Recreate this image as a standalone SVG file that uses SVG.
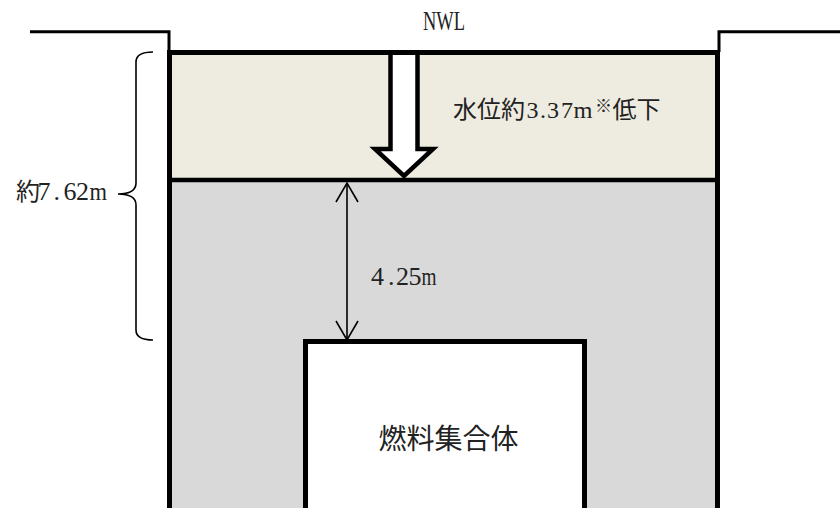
<svg xmlns="http://www.w3.org/2000/svg" width="840" height="508" viewBox="0 0 840 508">
<style>
.thin{fill:none;stroke:#000;stroke-width:3;stroke-linejoin:miter}
.wall{fill:none;stroke:#000;stroke-width:5}
.dim{fill:none;stroke:#000;stroke-width:1.6}
.lbl{font-family:"Liberation Serif","Noto Sans CJK JP",serif;fill:#222}
.cjk{font-family:"Noto Sans CJK JP",sans-serif;fill:#222}
</style>
<defs>
<marker id="v" viewBox="-21 -13 23 26" markerWidth="23" markerHeight="26" refX="0" refY="0" orient="auto-start-reverse" markerUnits="userSpaceOnUse">
<path d="M-19,-11 L0,0 L-19,11" fill="none" stroke="#000" stroke-width="1.6"/>
</marker>
</defs>
<rect width="840" height="508" fill="#fff"/>
<g id="ground">
<path class="thin" d="M30,31.7 H169 V52"/>
<path class="thin" d="M719,52 V31.7 H840"/>
</g>
<g id="pool-water">
<rect x="169" y="52" width="549" height="128" fill="#EEECE1"/>
<rect x="169" y="180" width="549" height="330" fill="#D9D9D9"/>
</g>
<g id="connectors">
<path id="drop-arrow" d="M390.5,50 V149 H375 L404,176 L433,149 H417.5 V50" fill="#fff" stroke="#000" stroke-width="4.5" stroke-linejoin="miter"/>
<path id="dim-425" class="dim" d="M347,183 V340" marker-start="url(#v)" marker-end="url(#v)"/>
<path id="brace" class="dim" d="M153,52 Q136,52 136,62 V183 Q136,194 118,194 Q136,194 136,205 V330 Q136,340 153,340"/>
</g>
<g id="pool-walls">
<path class="wall" d="M169.5,515 V52.5 H717.5 V515"/>
<path d="M169,180 H718" stroke="#000" stroke-width="4.5"/>
</g>
<g id="fuel">
<rect x="305.5" y="341.5" width="279" height="180" fill="#fff" stroke="#000" stroke-width="5"/>
<text class="cjk" x="448.5" y="449" font-size="28" text-anchor="middle">燃料集合体</text>
</g>
<g id="labels">
<text class="lbl" x="423" y="30" font-size="28" textLength="42" lengthAdjust="spacingAndGlyphs">NWL</text>
<text class="lbl" y="118" font-size="24"><tspan class="cjk" x="453">水位約</tspan><tspan x="526.5 540 547 561">3.37</tspan><tspan x="573.5" textLength="19" lengthAdjust="spacingAndGlyphs">m</tspan><tspan class="cjk" x="595" y="112" font-size="17">※</tspan><tspan class="cjk" x="612.5" y="118">低下</tspan></text>
<text class="lbl" y="200" font-size="26"><tspan class="cjk" x="16" font-size="24">約</tspan><tspan x="37.5 53.5 63.5 76">7.62</tspan><tspan x="89.5" textLength="17.5" lengthAdjust="spacingAndGlyphs">m</tspan></text>
<text class="lbl" y="285" font-size="26"><tspan x="371 388 396 408.5">4.25</tspan><tspan x="421.5" textLength="15" lengthAdjust="spacingAndGlyphs">m</tspan></text>
</g>
</svg>
